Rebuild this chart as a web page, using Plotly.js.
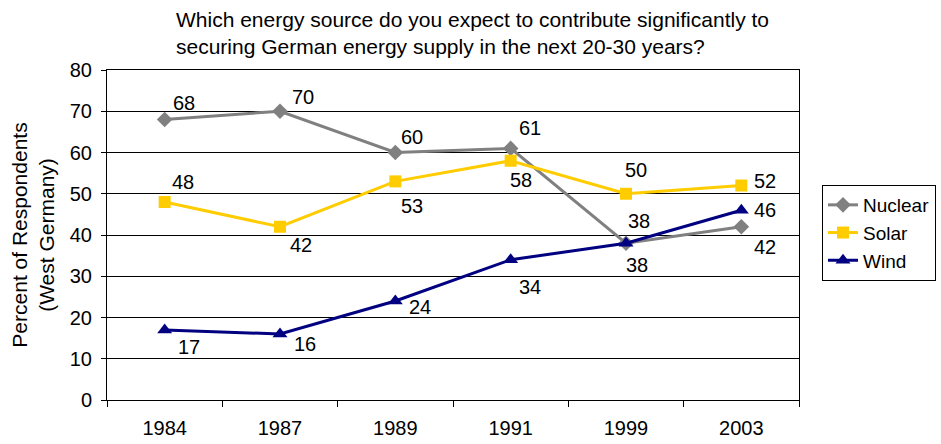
<!DOCTYPE html>
<html>
<head>
<meta charset="utf-8">
<script src="https://cdn.plot.ly/plotly-3.0.1.min.js"></script>
<style>html,body{margin:0;padding:0;background:#fff;}#chart{width:941px;height:444px;}</style>
</head>
<body>
<div id="chart"></div>
<script>
// ---- data ----
const years = ["1984", "1987", "1989", "1991", "1999", "2003"];
const nuclear = [68, 70, 60, 61, 38, 42];
const solar = [48, 42, 53, 58, 50, 52];
const wind = [17, 16, 24, 34, 38, 46];

// ---- label offsets (pixels) ----
const nuclearOff = [[19,-17],[23,-14],[17,-16],[19,-20],[11,22],[24,20]];
const solarOff   = [[18,-20],[21,18],[17,25],[10,19],[10,-24],[24,-5]];
const windOff    = [[24,17],[25,10],[25,6],[19,27],[13,-22],[24,0]];

const font = {family: "Liberation Sans, Arial, sans-serif", color: "#000"};

function series(name, y, color, symbol, size) {
  return {
    type: "scatter", mode: "lines+markers", name: name,
    x: years, y: y,
    line: {color: color, width: 3},
    marker: {color: color, symbol: symbol, size: size},
    cliponaxis: false
  };
}

const traces = [
  series("Nuclear", nuclear, "#808080", "diamond", 12),
  series("Solar", solar, "#FFCC00", "square", 12),
  series("Wind", wind, "#000080", "triangle-up", 13)
];

const annotations = [];
[[nuclear, nuclearOff], [solar, solarOff], [wind, windOff]].forEach(([vals, offs]) => {
  vals.forEach((v, i) => {
    annotations.push({
      x: i, y: v, xref: "x", yref: "y",
      text: String(v), showarrow: false,
      xshift: offs[i][0], yshift: -offs[i][1],
      font: Object.assign({size: 20}, font)
    });
  });
});

const layout = {
  width: 941, height: 444,
  margin: {l: 107, r: 142, t: 70, b: 44, autoexpand: false},
  paper_bgcolor: "#fff", plot_bgcolor: "#fff",
  font: Object.assign({size: 19}, font),
  title: {
    text: "Which energy source do you expect to contribute significantly to<br>securing German energy supply in the next 20-30 years?",
    x: 176 / 941, xref: "container", xanchor: "left",
    y: 0.939, yref: "container", yanchor: "middle",
    font: Object.assign({size: 21}, font)
  },
  xaxis: {
    type: "category", range: [-0.5, 5.5],
    showline: true, linecolor: "#000", linewidth: 1, mirror: true,
    ticks: "outside", tickson: "boundaries", ticklen: 6, tickcolor: "#000",
    ticklabelstandoff: 10,
    showgrid: false, zeroline: false,
    tickfont: Object.assign({size: 20}, font)
  },
  yaxis: {
    range: [0, 80], dtick: 10,
    showline: true, linecolor: "#000", linewidth: 1, mirror: true,
    ticks: "outside", ticklen: 5, tickcolor: "#000",
    ticklabelstandoff: 5,
    showgrid: true, gridcolor: "#000", gridwidth: 1, zeroline: false,
    tickfont: Object.assign({size: 20}, font),
    title: {text: "Percent of Respondents<br>(West Germany)", font: Object.assign({size: 21}, font), standoff: 9}
  },
  showlegend: true,
  legend: {
    xref: "container", yref: "container",
    x: 822 / 941, xanchor: "left", y: 1 - 185 / 444, yanchor: "top",
    bordercolor: "#000", borderwidth: 1, bgcolor: "#fff",
    font: Object.assign({size: 19}, font),
    tracegroupgap: 0
  },
  annotations: annotations
};

Plotly.newPlot("chart", traces, layout, {displayModeBar: false, staticPlot: true});
</script>
</body>
</html>
